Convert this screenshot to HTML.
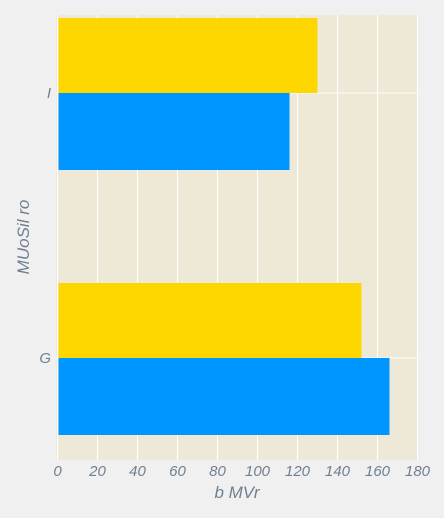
<!DOCTYPE html>
<html><head><meta charset="utf-8"><style>
body{margin:0;background:#f0f0f0;width:444px;height:518px;overflow:hidden}
svg{display:block}
svg text{font-family:"Liberation Sans",sans-serif;font-style:italic;fill:#708090}
</style></head><body>
<svg width="444" height="518">
<rect x="56" y="15" width="362" height="445" fill="#eee8d6"/>
<g id="grid"></g><g id="bars"></g><g id="ticks"></g>
<text x="237" y="498" font-size="17" text-anchor="middle">b MVr</text>
<text transform="translate(29,237) rotate(-90)" font-size="17" text-anchor="middle">MUoSil ro</text>
</svg>
<script>
const categories=["I","G"];
const seriesYellow=[130,152];
const seriesBlue=[116,166];
const xTicks=[0,20,40,60,80,100,120,140,160,180];
const ns="http://www.w3.org/2000/svg";
const x=v=>57.5+v*2;
const catY=[93,358];
const bw=76;
function mk(t,a,p){const e=document.createElementNS(ns,t);for(const k in a)e.setAttribute(k,a[k]);p.appendChild(e);return e;}
const g=document.getElementById('grid'),b=document.getElementById('bars'),tk=document.getElementById('ticks');
xTicks.forEach(v=>{
 const l=mk('line',{x1:x(v),x2:x(v),y1:15,y2:460,stroke:'#fff','stroke-width':1},g);
 
 
 const t=mk('text',{x:x(v),y:476,'font-size':15,'text-anchor':'middle'},tk);t.textContent=v;
 
 
});
categories.forEach((c,i)=>{
 const l=mk('line',{x1:56,x2:418,y1:catY[i],y2:catY[i],stroke:'#fff','stroke-width':1},g);
 
 
 const y1=mk('rect',{x:x(0)+1,y:catY[i]-bw+1,width:x(seriesYellow[i])-x(0)-1,height:bw-1,fill:'#ffd700'},b);
 
 
 const b1=mk('rect',{x:x(0)+1,y:catY[i],width:x(seriesBlue[i])-x(0)-1,height:bw+1,fill:'#0096ff'},b);
 
 
 const t=mk('text',{x:51,y:catY[i]+5,'font-size':15,'text-anchor':'end'},tk);t.textContent=c;
 
 
});
</script>
</body></html>
